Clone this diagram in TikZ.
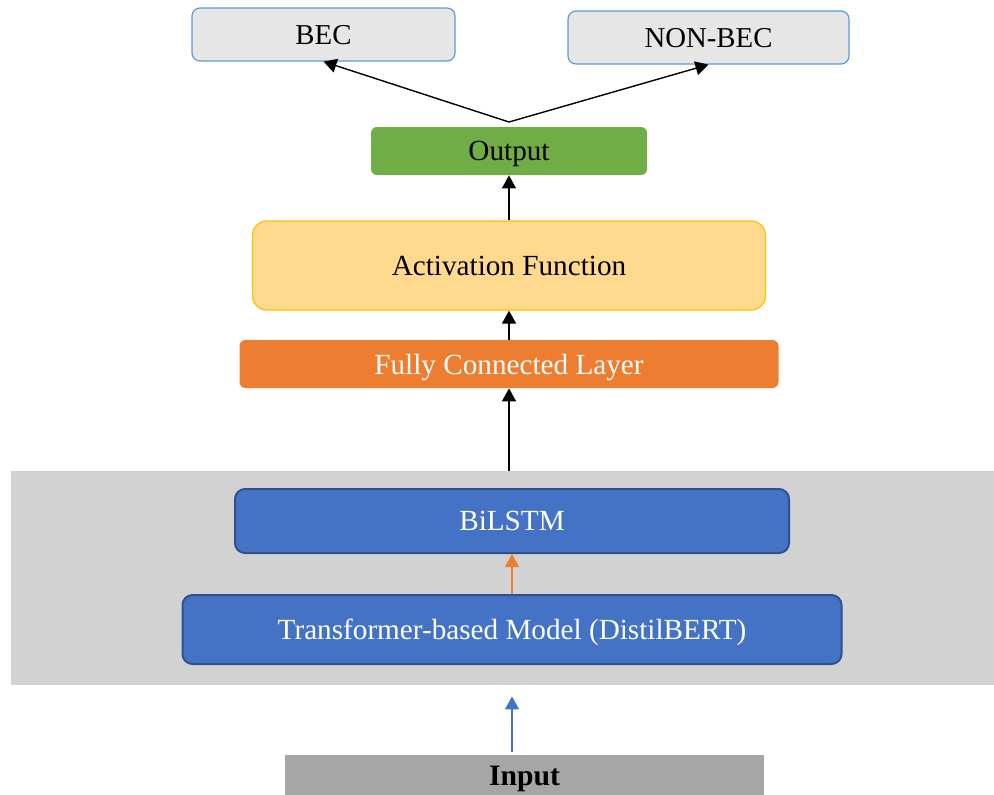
\documentclass[tikz,border=0pt]{standalone}
\usepackage{fontspec}
\setmainfont{Liberation Serif}
\usepackage{tikz}
\usetikzlibrary{arrows.meta}
\definecolor{clsgray}{RGB}{231,230,230}
\definecolor{clsblue}{RGB}{91,155,213}
\definecolor{outgreen}{RGB}{112,173,71}
\definecolor{actyellow}{RGB}{255,217,142}
\definecolor{actborder}{RGB}{255,192,0}
\definecolor{fcorange}{RGB}{237,125,49}
\definecolor{lstmblue}{RGB}{68,114,196}
\definecolor{lstmborder}{RGB}{47,82,143}
\definecolor{panelgray}{RGB}{210,210,210}
\definecolor{inpgray}{RGB}{166,166,166}
\newcommand{\fsz}[1]{\fontsize{#1pt}{#1pt}\selectfont}

\begin{document}
\begin{tikzpicture}[x=0.5pt,y=-0.5pt,>={Triangle[length=6.5pt,width=7pt]},
 cls/.style={rounded corners=4pt,draw=clsblue,line width=0.6pt,fill=clsgray,inner sep=0pt,text depth=0pt,minimum height=26.5pt,font=\fsz{14.4}},
 lay/.style={rounded corners=3pt,inner sep=0pt,text depth=0pt,minimum height=24pt,font=\fsz{14.6}},
 enc/.style={rounded corners=5pt,draw=lstmborder,line width=1pt,fill=lstmblue,text=white,inner sep=0pt,text depth=0pt,font=\fsz{14.6}}]
\useasboundingbox (0,0) rectangle (994,794);
\clip (0,0) rectangle (994,794);
\node[fill=panelgray,inner sep=0pt,minimum width=491.5pt,minimum height=107pt] (panel) at (502.5,578) {};
\node[cls,minimum width=131.5pt] (bec) at (323.5,34.5) {BEC};
\node[cls,minimum width=140.5pt] (nonbec) at (708.5,37.5) {NON-BEC};
\node[lay,fill=outgreen,minimum width=138pt] (out) at (509,151) {Output};
\node[lay,rounded corners=7pt,draw=actborder,line width=0.6pt,fill=actyellow,minimum width=256.5pt,minimum height=44.5pt] (act) at (509,265.5) {Activation Function};
\node[lay,fill=fcorange,text=white,minimum width=269.5pt] (fc) at (509,364) {Fully Connected Layer};
\node[enc,minimum width=277pt,minimum height=32pt] (lstm) at (512,521) {BiLSTM};
\node[enc,minimum width=329.5pt,minimum height=34.5pt] (tbm) at (512,629.5) {Transformer-based Model (DistilBERT)};
\node[fill=inpgray,inner sep=0pt,minimum width=239.5pt,minimum height=24pt,font=\bfseries\fsz{14.8}] (inp) at (524.5,779) {Input};
\coordinate (split) at (509,122);
\draw[->,line width=0.7pt] (split) -- (bec.south);
\draw[->,line width=0.7pt] (split) -- (nonbec.south);
\draw[->,line width=0.7pt] (act.north) -- (out.south);
\draw[->,line width=0.7pt] (fc.north) -- (act.south);
\draw[->,line width=0.7pt] (fc.south |- panel.north) -- (fc.south);
\draw[->,draw=fcorange,fill=fcorange,line width=0.6pt] (tbm.north) -- (lstm.south);
\draw[->,draw=lstmblue,fill=lstmblue,line width=0.6pt,shorten <=1.5pt,shorten >=5.5pt] (inp.north -| tbm) -- (panel.south -| tbm);
\end{tikzpicture}
\end{document}
